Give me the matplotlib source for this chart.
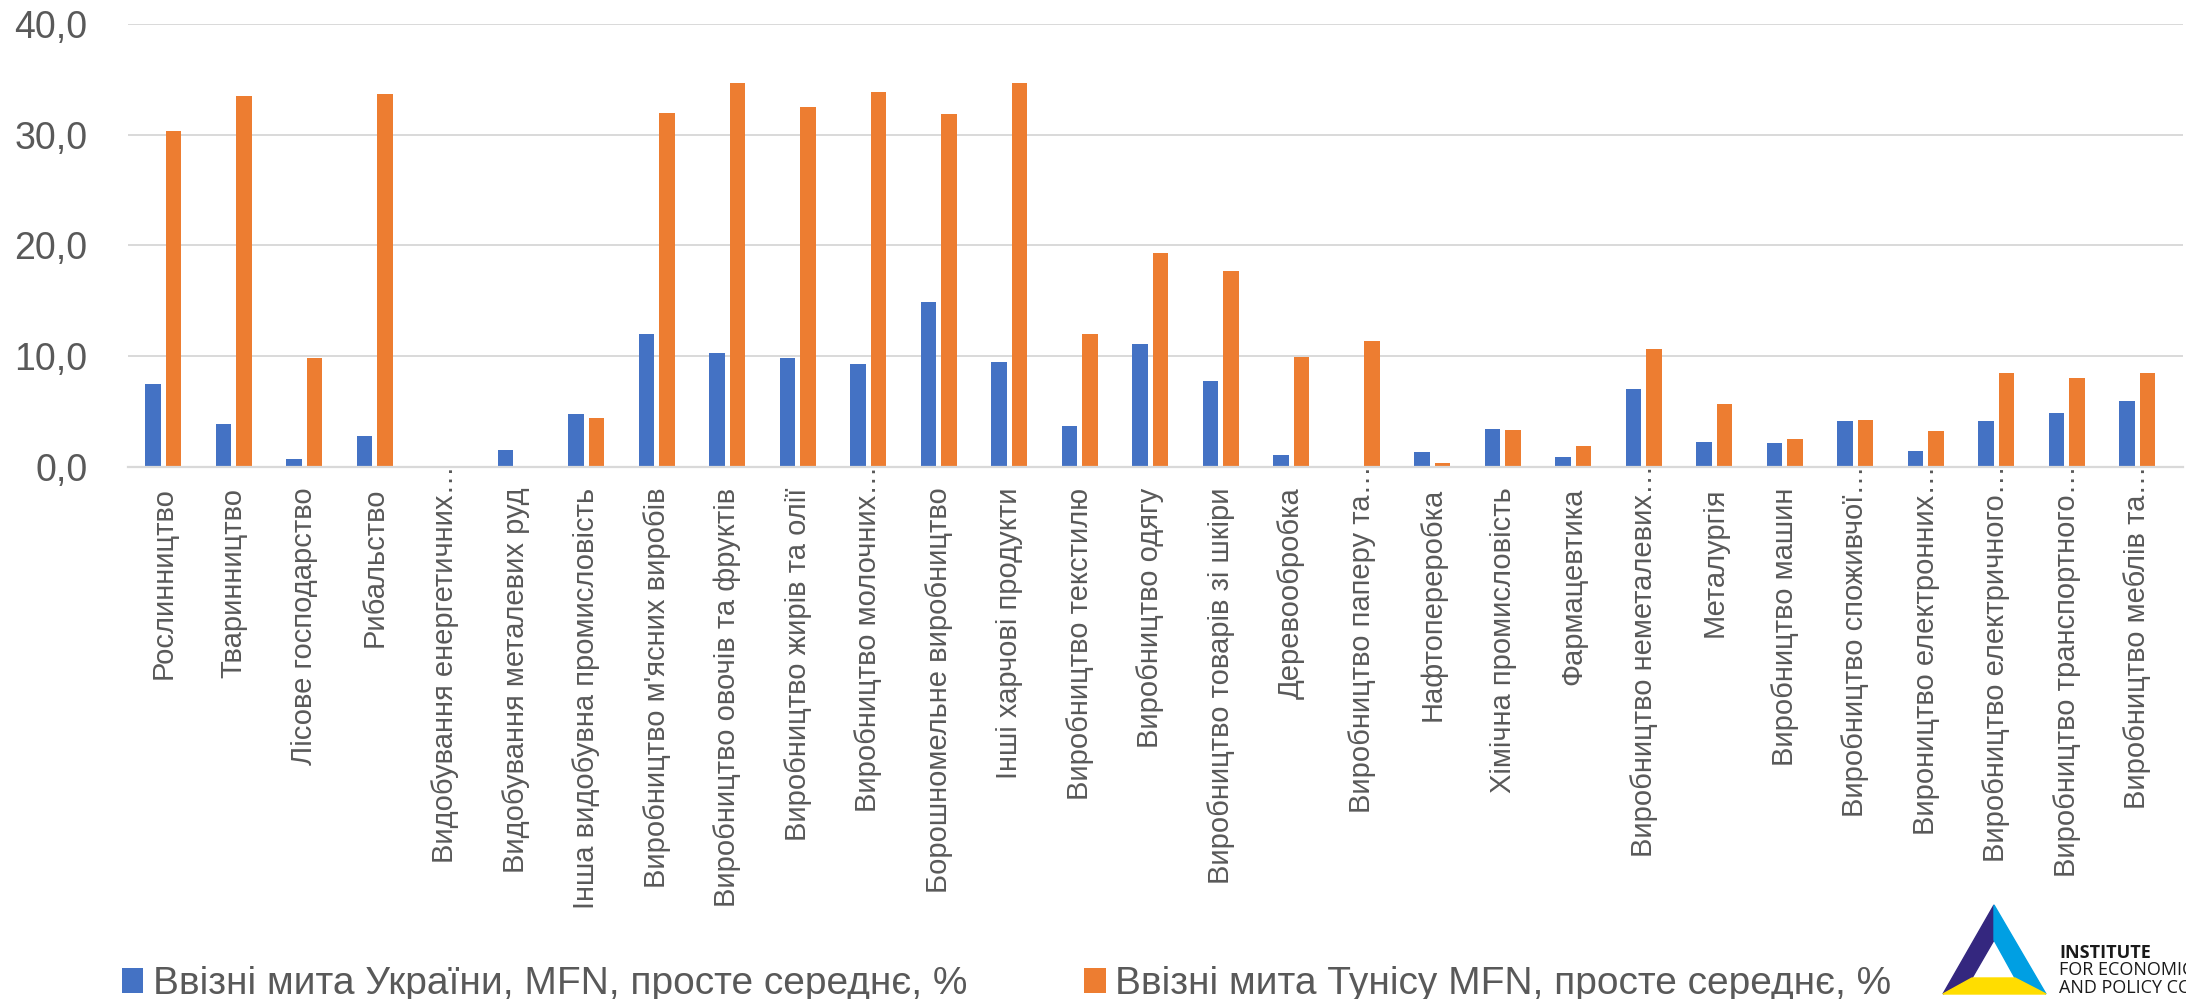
import matplotlib
matplotlib.use("Agg")
import matplotlib.pyplot as plt
import numpy as np
from matplotlib.patches import Polygon

plt.rcParams['font.family'] = ['Liberation Sans', 'DejaVu Sans']

categories = [
    'Рослинництво', 'Тваринництво', 'Лісове господарство', 'Рибальство',
    'Видобування енергетичних…', 'Видобування металевих руд',
    'Інша видобувна промисловість', "Виробництво м'ясних виробів",
    'Виробництво овочів та фруктів', 'Виробництво жирів та олії',
    'Виробництво молочних…', 'Борошномельне виробництво',
    'Інші харчові продукти', 'Виробництво текстилю', 'Виробництво одягу',
    'Виробництво товарів зі шкіри', 'Деревообробка', 'Виробництво паперу та…',
    'Нафтопереробка', 'Хімічна промисловість', 'Фармацевтика',
    'Виробництво неметалевих…', 'Металургія', 'Виробництво машин',
    'Виробництво споживчої…', 'Вироництво електронних…',
    'Виробництво електричного…', 'Виробництво транспортного…',
    'Виробництво меблів та…',
]
ukraine = [7.5, 3.9, 0.7, 2.8, 0.0, 1.5, 4.8, 12.0, 10.3, 9.8, 9.3, 14.85,
           9.45, 3.7, 11.1, 7.7, 1.05, 0.1, 1.3, 3.4, 0.9, 7.05, 2.25, 2.15,
           4.15, 1.4, 4.1, 4.85, 5.95]
tunisia = [30.3, 33.5, 9.8, 33.7, 0.0, 0.0, 4.4, 32.0, 34.7, 32.5, 33.9, 31.9,
           34.7, 11.95, 19.35, 17.7, 9.9, 11.4, 0.35, 3.3, 1.85, 10.6, 5.7,
           2.5, 4.25, 3.2, 8.5, 8.0, 8.5]
yticks = [0, 10, 20, 30, 40]
label_ukr = 'Ввізні мита України, MFN, просте середнє, %'
label_tun = 'Ввізні мита Тунісу MFN, просте середнє, %'

W, H = 2186, 999
fig = plt.figure(figsize=(W / 100, H / 100), dpi=100)
ax = fig.add_axes([128 / W, 1 - 466.7 / H, 2055 / W, (466.7 - 24) / H])

x = np.arange(len(categories))
bw = 0.221
b1 = ax.bar(x - 0.145, ukraine, bw, color='#4472C4', label=label_ukr, zorder=3)
b2 = ax.bar(x + 0.145, tunisia, bw, color='#ED7D31', label=label_tun, zorder=3)

ax.set_xlim(-0.5, 28.65)
ax.set_ylim(0, 40)
ax.set_yticks(yticks)
ax.yaxis.set_major_formatter(plt.FuncFormatter(lambda v, p: ('%.1f' % v).replace('.', ',')))
ax.tick_params(axis='y', length=0, pad=29, labelsize=27, labelcolor='#595959')
ax.set_xticks([])
ax.yaxis.grid(True, color='#D9D9D9', lw=1.4, zorder=0)
for s in ['top', 'right', 'left']:
    ax.spines[s].set_visible(False)
ax.spines['bottom'].set_color('#D9D9D9')
ax.spines['bottom'].set_linewidth(1.6)
ax.spines['bottom'].set_zorder(4)

# rotated category labels; truncated ones sit right under the axis
for i, lab in enumerate(categories):
    pad = -1 if lab.endswith('…') else 15
    ax.annotate(lab, xy=(i, 0), xycoords=('data', 'axes fraction'),
                xytext=(0, -pad), textcoords='offset points',
                rotation=90, ha='center', va='top', fontsize=21,
                color='#595959', annotation_clip=False)

fig.legend(handles=[b1, b2], loc='lower left', bbox_to_anchor=(122 / W, -3 / H),
           ncol=2, frameon=False, fontsize=28, handlelength=0.55,
           handleheight=0.6, handletextpad=0.25, columnspacing=3.0,
           borderpad=0, borderaxespad=0, labelcolor='#595959')

# logo, drawn in pixel coordinates from the top-left corner
def P(px, py):
    return (px / W, 1 - py / H)

tr = fig.transFigure
fig.add_artist(Polygon([P(1994, 905), P(1994, 940), P(1972, 978), P(1943, 994)],
                       closed=True, color='#34277F', transform=tr))
fig.add_artist(Polygon([P(1994, 905), P(2046, 994), P(2015, 978), P(1994, 940)],
                       closed=True, color='#009FE3', transform=tr))
fig.add_artist(Polygon([P(1972, 978), P(2015, 978), P(2046, 994), P(1943, 994)],
                       closed=True, color='#FFDD00', transform=tr))
fig.text(2059 / W, 1 - 958 / H, 'INSTITUTE', fontsize=13, fontweight='bold',
         color='#1A1A1A', family=['Open Sans', 'DejaVu Sans'])
fig.text(2059 / W, 1 - 975 / H, 'FOR ECONOMIC RESEARCH', fontsize=13,
         color='#1A1A1A', family=['Open Sans', 'DejaVu Sans'])
fig.text(2059 / W, 1 - 993 / H, 'AND POLICY CONSULTING', fontsize=13,
         color='#1A1A1A', family=['Open Sans', 'DejaVu Sans'])

fig.savefig('out.png', dpi=100)
